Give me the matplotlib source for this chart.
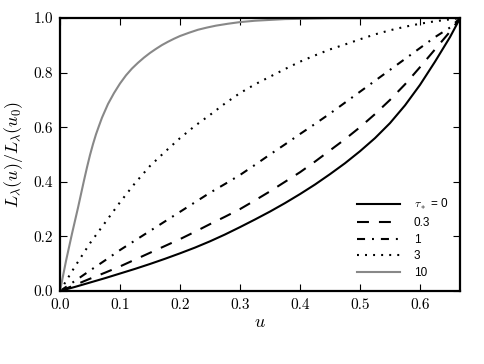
import matplotlib
matplotlib.use("Agg")
import matplotlib.pyplot as plt

plt.rcParams['font.family'] = 'serif'
plt.rcParams['font.serif'] = ['cmr10']
plt.rcParams['mathtext.fontset'] = 'cm'
plt.rcParams['axes.formatter.use_mathtext'] = True
plt.rcParams['lines.scale_dashes'] = False

# values
u_0 = [0, 0.025, 0.05, 0.075, 0.1, 0.125, 0.15, 0.175, 0.2, 0.225, 0.25, 0.275, 0.3, 0.325,
       0.35, 0.375, 0.4, 0.425, 0.45, 0.475, 0.5, 0.525, 0.55, 0.575, 0.6, 0.625, 0.65, 0.667]
L_0 = [0, 0.015, 0.031, 0.047, 0.064, 0.081, 0.099, 0.118, 0.138, 0.159, 0.182, 0.207, 0.234, 0.262,
       0.291, 0.322, 0.355, 0.39, 0.428, 0.468, 0.512, 0.56, 0.615, 0.68, 0.755, 0.84, 0.93, 1.0]

u_03 = [0, 0.025, 0.05, 0.075, 0.1, 0.125, 0.15, 0.175, 0.2, 0.225, 0.25, 0.275, 0.3, 0.325,
        0.35, 0.375, 0.4, 0.425, 0.45, 0.475, 0.5, 0.525, 0.55, 0.575, 0.6, 0.625, 0.65, 0.667]
L_03 = [0, 0.022, 0.045, 0.067, 0.09, 0.115, 0.14, 0.165, 0.19, 0.217, 0.245, 0.272, 0.30, 0.332,
        0.365, 0.40, 0.435, 0.474, 0.515, 0.556, 0.60, 0.648, 0.70, 0.757, 0.82, 0.885, 0.95, 1.0]

u_1 = [0, 0.025, 0.05, 0.075, 0.1, 0.125, 0.15, 0.175, 0.2, 0.225, 0.25, 0.275, 0.3, 0.325,
       0.35, 0.375, 0.4, 0.425, 0.45, 0.475, 0.5, 0.525, 0.55, 0.575, 0.6, 0.625, 0.65, 0.667]
L_1 = [0, 0.037, 0.075, 0.112, 0.15, 0.185, 0.22, 0.255, 0.29, 0.325, 0.36, 0.392, 0.425, 0.462,
       0.50, 0.537, 0.575, 0.612, 0.65, 0.69, 0.73, 0.77, 0.81, 0.85, 0.89, 0.93, 0.965, 1.0]

u_3 = [0, 0.0125, 0.025, 0.05, 0.075, 0.1, 0.125, 0.15, 0.175, 0.2, 0.225, 0.25, 0.275, 0.3,
       0.325, 0.35, 0.375, 0.4, 0.425, 0.45, 0.475, 0.5, 0.525, 0.55, 0.575, 0.6, 0.625, 0.65, 0.667]
L_3 = [0, 0.045, 0.09, 0.175, 0.25, 0.325, 0.395, 0.458, 0.51, 0.56, 0.605, 0.645, 0.687, 0.725,
       0.757, 0.785, 0.813, 0.84, 0.863, 0.885, 0.903, 0.922, 0.94, 0.955, 0.968, 0.979, 0.988, 0.995, 1.0]

u_10 = [0, 0.01, 0.02, 0.03, 0.035, 0.04, 0.045, 0.05, 0.055, 0.06, 0.065, 0.07, 0.075, 0.08,
        0.085, 0.09, 0.10, 0.11, 0.12, 0.13, 0.14, 0.15, 0.16, 0.17, 0.18, 0.19, 0.20, 0.215,
        0.23, 0.245, 0.26, 0.28, 0.30, 0.325, 0.35, 0.375, 0.40, 0.45, 0.50, 0.60, 0.667]
L_10 = [0, 0.11, 0.21, 0.305, 0.355, 0.405, 0.453, 0.498, 0.538, 0.574, 0.605, 0.635, 0.66, 0.685,
        0.705, 0.725, 0.76, 0.79, 0.815, 0.836, 0.855, 0.872, 0.887, 0.901, 0.913, 0.924, 0.934, 0.946,
        0.957, 0.965, 0.972, 0.979, 0.985, 0.99, 0.993, 0.996, 0.997, 0.999, 0.999, 1.0, 1.0]

labels = [r"$\tau_*$ = 0", "0.3", "1", "3", "10"]

fig = plt.figure(figsize=(4.85, 3.64), dpi=100)
ax = fig.add_axes([60/485, 1 - 291/364, 400/485, 273/364])

lw = 1.5
ax.plot(u_0, L_0, color="black", lw=lw, label=labels[0])
ax.plot(u_03, L_03, color="black", lw=lw, dashes=[8.6, 7.2], label=labels[1])
ax.plot(u_1, L_1, color="black", lw=lw, dashes=[5.8, 5, 1.4, 5], label=labels[2])
ax.plot(u_3, L_3, color="black", lw=lw, dashes=[1.4, 4.4], label=labels[3])
ax.plot(u_10, L_10, color="#888888", lw=lw, label=labels[4])

ax.set_xlim(0, 2/3)
ax.set_ylim(0, 1)
ax.set_xticks([0.0, 0.1, 0.2, 0.3, 0.4, 0.5, 0.6])
ax.set_xticklabels(["0.0", "0.1", "0.2", "0.3", "0.4", "0.5", "0.6"])
ax.set_yticks([0.0, 0.2, 0.4, 0.6, 0.8, 1.0])
ax.set_yticklabels(["0.0", "0.2", "0.4", "0.6", "0.8", "1.0"])
ax.tick_params(direction="in", length=5, width=0.8, top=True, right=True, labelsize=11, pad=5)
for s in ax.spines.values():
    s.set_linewidth(1.6)

ax.set_xlabel(r"$u$", fontsize=13, labelpad=2)
ax.set_ylabel(r"$L_\lambda(u)/L_\lambda(u_0)$", fontsize=13, labelpad=6)

leg = ax.legend(loc="lower right", frameon=False, prop={"family": "Liberation Sans", "size": 8.5},
                handlelength=3.6, handletextpad=1.2, labelspacing=0.4, borderaxespad=0.6)

fig.savefig("out.png", dpi=100)
